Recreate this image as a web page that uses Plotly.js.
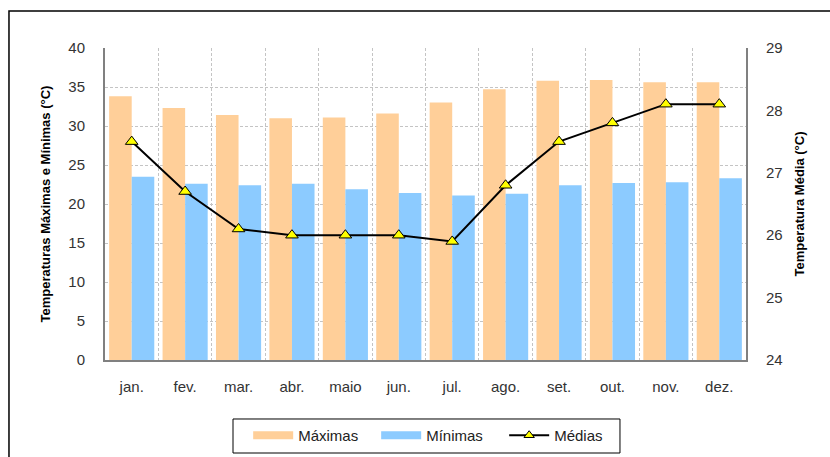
<!DOCTYPE html>
<html>
<head>
<meta charset="utf-8">
<script src="https://cdn.plot.ly/plotly-3.0.1.min.js"></script>
<style>
html,body{margin:0;padding:0;background:#fff;}
#chart{width:830px;height:457px;}
</style>
</head>
<body>
<div id="chart"></div>
<script>
const months = ["jan.","fev.","mar.","abr.","maio","jun.","jul.","ago.","set.","out.","nov.","dez."];
const maximas = [33.8,32.3,31.4,31.0,31.1,31.6,33.0,34.7,35.8,35.9,35.6,35.6];
const minimas = [23.5,22.6,22.4,22.6,21.9,21.4,21.1,21.3,22.4,22.7,22.8,23.3];
const medias  = [27.5,26.7,26.1,26.0,26.0,26.0,25.9,26.8,27.5,27.8,28.1,28.1];
const seriesNames = ["Máximas","Mínimas","Médias"];
const colors = {max:"#FFCF99", min:"#8CCBFF"};

const fontFam = "Liberation Sans, Arial, sans-serif";

const traces = [
  {type:"bar", name:seriesNames[0], x:months, y:maximas, marker:{color:colors.max}, yaxis:"y", showlegend:false},
  {type:"bar", name:seriesNames[1], x:months, y:minimas, marker:{color:colors.min}, yaxis:"y", showlegend:false},
  {type:"scatter", mode:"lines+markers", name:seriesNames[2], x:months, y:medias, yaxis:"y2", showlegend:false,
   line:{color:"#000000", width:2},
   marker:{symbol:"triangle-up", size:11, color:"#FFFF00", line:{color:"#000000", width:1}}},
  // legend-only entries (no data drawn)
  {type:"scatter", mode:"lines", name:seriesNames[0], x:[null], y:[null], line:{color:colors.max, width:8}},
  {type:"scatter", mode:"lines", name:seriesNames[1], x:[null], y:[null], line:{color:colors.min, width:8}},
  {type:"scatter", mode:"lines+markers", name:seriesNames[2], x:[null], y:[null], yaxis:"y2",
   line:{color:"#000000", width:2},
   marker:{symbol:"triangle-up", size:9, color:"#FFFF00", line:{color:"#000000", width:1}}}
];

const layout = {
  width:830, height:457,
  margin:{l:105, r:84, t:48, b:97},
  paper_bgcolor:"#ffffff", plot_bgcolor:"#ffffff",
  font:{family:fontFam, size:15, color:"#333333"},
  barmode:"group", bargap:0.155, bargroupgap:0,
  showlegend:true,
  legend:{orientation:"h", xref:"container", yref:"container", x:0.299, xanchor:"left", y:0.0832, yanchor:"top",
    borderwidth:0, bgcolor:"rgba(0,0,0,0)", font:{size:15, color:"#222"},
    entrywidth:73, traceorder:"normal", itemwidth:40},
  xaxis:{type:"category", range:[-0.5, 11.5], tickson:"boundaries", showgrid:true, gridcolor:"#c4c4c4", griddash:"3px,2px", gridwidth:1,
    showline:true, linecolor:"#808080", linewidth:2, ticks:"", ticklabelstandoff:12, automargin:false,
    tickfont:{size:15, color:"#333"}, zeroline:false},
  yaxis:{range:[0,40], dtick:5, showgrid:true, gridcolor:"#c4c4c4", griddash:"3px,2px", gridwidth:1,
    showline:true, linecolor:"#808080", linewidth:2, ticks:"", ticklabelstandoff:15, zeroline:false, automargin:false,
    tickfont:{size:15, color:"#333"},
    title:{text:"Temperaturas Máximas e Mínimas (°C)", font:{size:13, color:"#000", family:fontFam, weight:"bold"}, standoff:15}},
  yaxis2:{range:[24,29], dtick:1, overlaying:"y", side:"right", showgrid:false,
    showline:true, linecolor:"#808080", linewidth:2, ticks:"", ticklabelstandoff:15, zeroline:false, automargin:false,
    tickfont:{size:15, color:"#333"},
    title:{text:"Temperatura Média (°C)", font:{size:13, color:"#000", family:fontFam, weight:"bold"}, standoff:13}},
  shapes:[
    {type:"rect", xref:"paper", yref:"paper", x0:-0.1498, x1:2, y0:-1, y1:1.1186,
     line:{color:"#000000", width:1.5}, fillcolor:"rgba(0,0,0,0)", layer:"below"},
    {type:"rect", xref:"paper", yref:"paper", x0:0.1997, x1:0.8034, y0:-0.2981, y1:-0.1891,
     line:{color:"#000000", width:1}, fillcolor:"rgba(0,0,0,0)", layer:"below"}
  ]
};

Plotly.newPlot("chart", traces, layout, {displayModeBar:false, staticPlot:true});
</script>
</body>
</html>
